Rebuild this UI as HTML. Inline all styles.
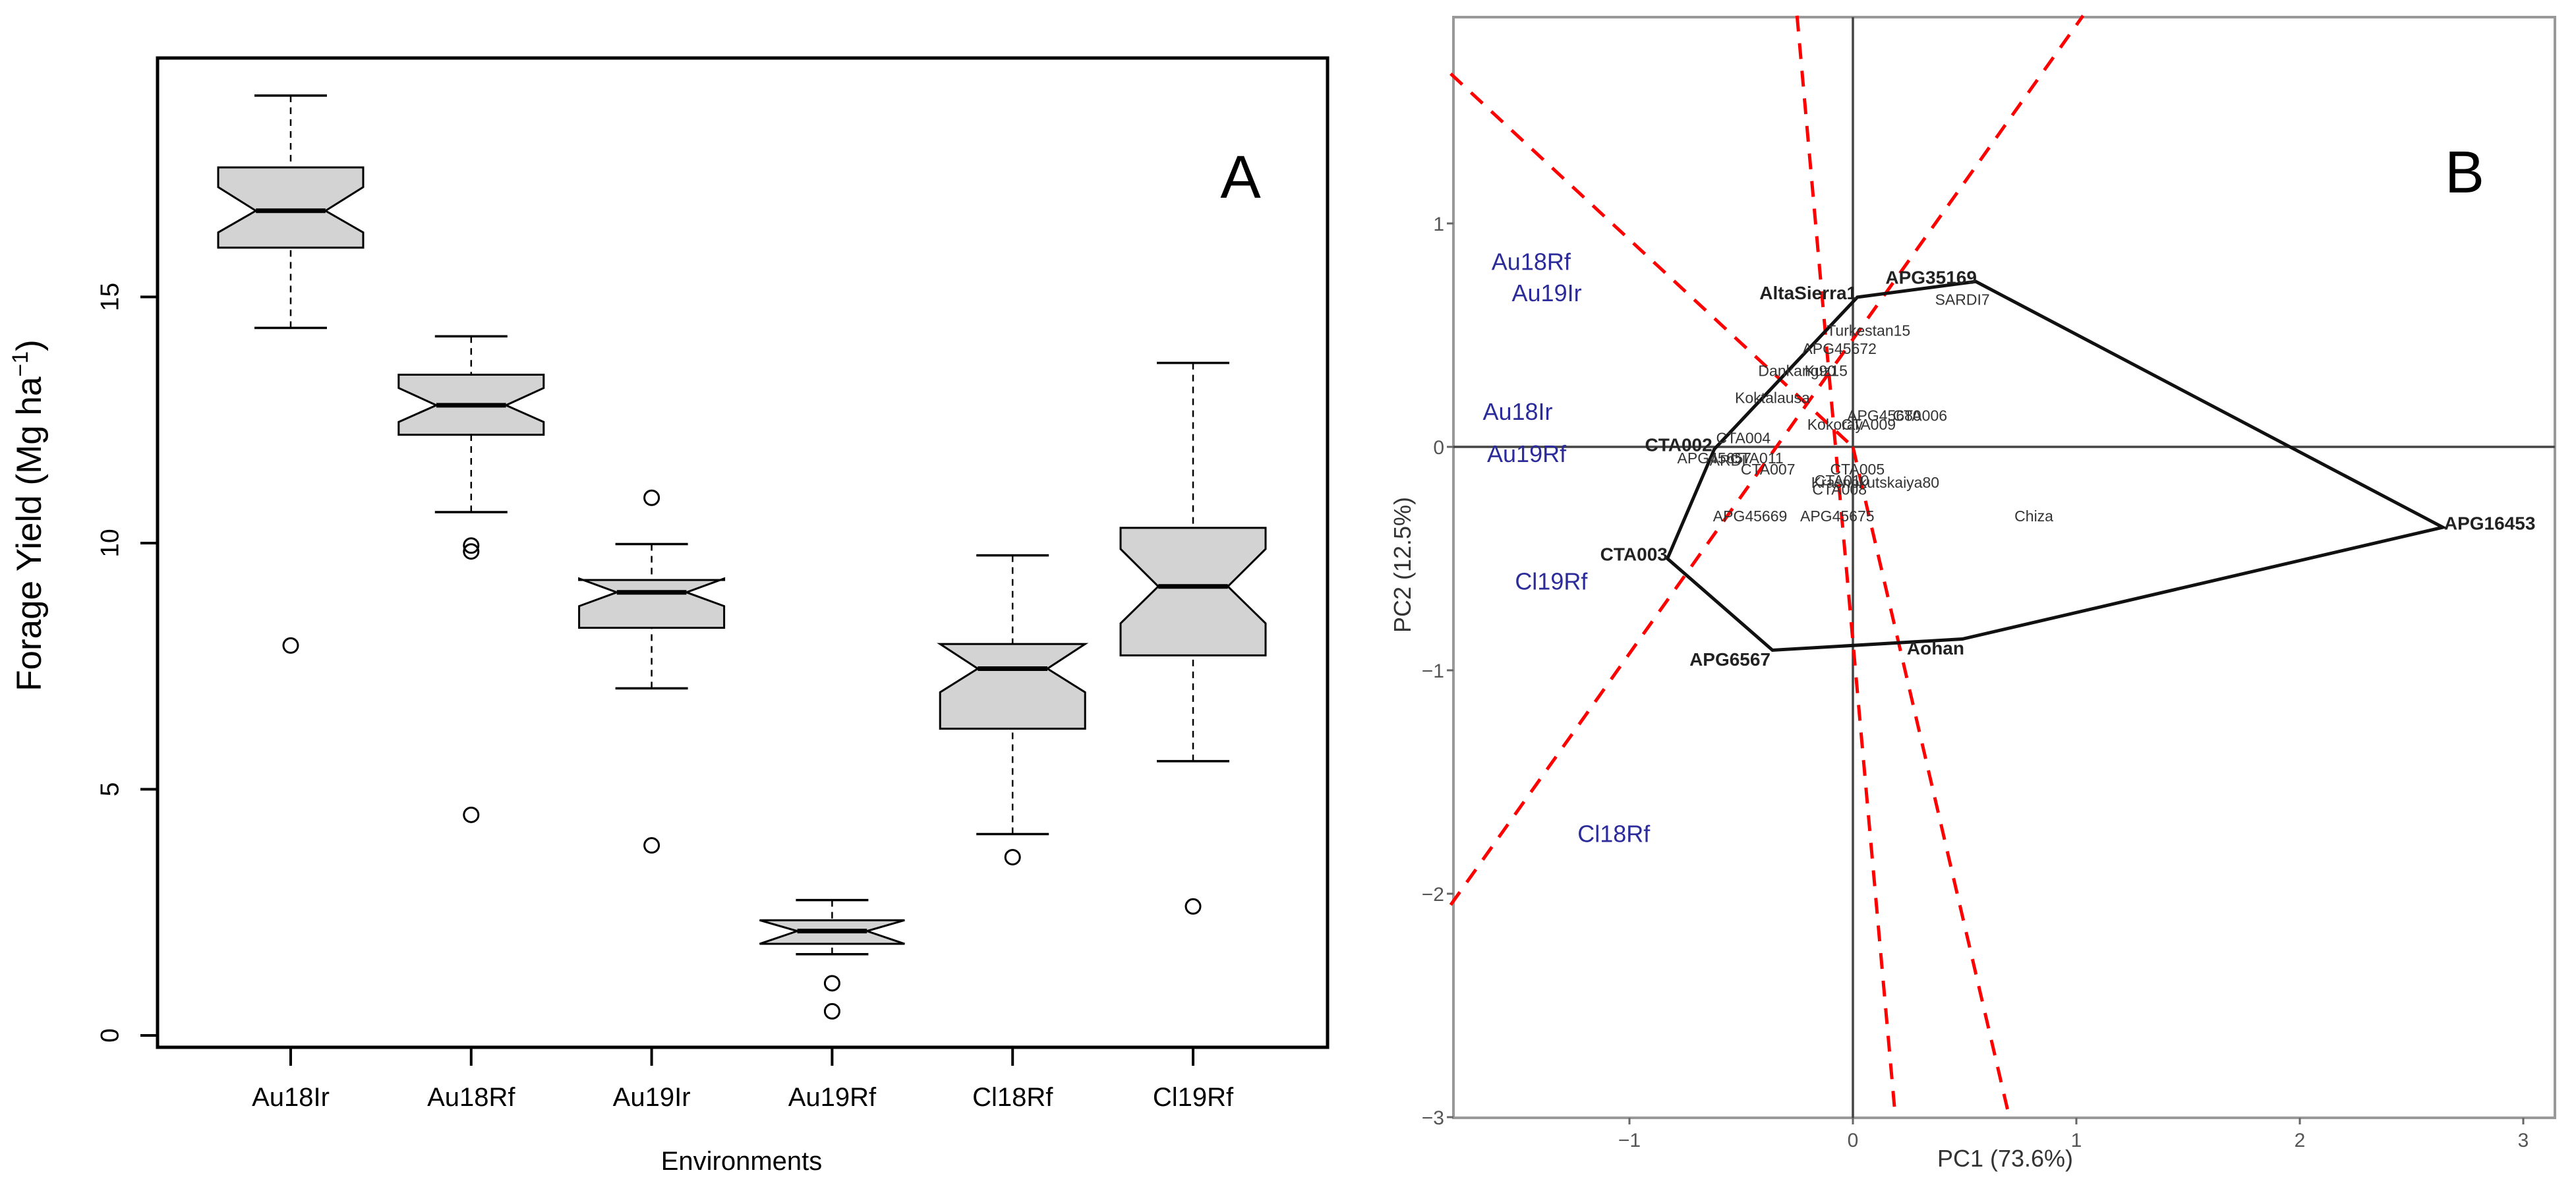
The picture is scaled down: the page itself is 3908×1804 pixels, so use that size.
<!DOCTYPE html>
<html><head><meta charset="utf-8"><style>
html,body{margin:0;padding:0;background:#fff;}
svg{display:block;font-family:"Liberation Sans",Arial,sans-serif;}
</style></head><body>
<svg id="fig" width="3908" height="1804" viewBox="0 0 3908 1804" xmlns="http://www.w3.org/2000/svg">
<g id="panelA"></g>
<g id="panelB"></g>
</svg>
<script>
// ---------- Panel A data ----------
const envNames = ["Au18Ir","Au18Rf","Au19Ir","Au19Rf","Cl18Rf","Cl19Rf"];
const whiskerLow = [14.37,10.63,7.05,1.65,4.09,5.57];
const q1 = [16.0,12.2,8.28,1.86,6.23,7.72];
const median = [16.75,12.8,9.0,2.12,7.45,9.12];
const q3 = [17.63,13.42,9.25,2.34,7.95,10.31];
const whiskerHigh = [19.09,14.2,9.98,2.75,9.75,13.66];
const notchLow = [16.31,12.46,8.72,1.86,6.97,8.37];
const notchHigh = [17.23,13.15,9.28,2.34,7.95,9.88];
const outlierEnv = [0,1,1,1,2,2,3,3,4,5];
const outlierVal = [7.92,9.95,9.83,4.48,10.92,3.86,1.06,0.49,3.62,2.62];
const yTicksA = [0,5,10,15];

// ---------- Panel B data ----------
const hullNames = ["AltaSierra1","APG35169","APG16453","Aohan","APG6567","CTA003","CTA002"];
const hullX = [0.02,0.55,2.64,0.49,-0.36,-0.83,-0.62];
const hullY = [0.67,0.74,-0.36,-0.86,-0.91,-0.50,-0.01];
const hullLabelX = [-0.20,0.35,2.85,0.37,-0.55,-0.98,-0.78];
const hullLabelY = [0.69,0.76,-0.34,-0.90,-0.95,-0.48,0.01];
const envLabels = ["Au18Rf","Au19Ir","Au18Ir","Au19Rf","Cl19Rf","Cl18Rf"];
const envX = [-1.44,-1.37,-1.50,-1.46,-1.35,-1.07];
const envY = [0.83,0.69,0.16,-0.03,-0.60,-1.73];
const genoNames = ["Turkestan15","APG45672","Dankang90","Kuz15","Koktalausa","APG45680","CTA006","Kokoray","CTA009","CTA004","APG45657","CTA011","ARDI","CTA007","CTA005","CTA010","Krasnokutskaiya80","CTA008","APG45669","APG45675","Chiza","SARDI7"];
const genoX = [0.07,-0.06,-0.25,-0.12,-0.36,0.14,0.30,-0.08,0.07,-0.49,-0.62,-0.43,-0.56,-0.38,0.02,-0.05,0.10,-0.06,-0.46,-0.07,0.81,0.49];
const genoY = [0.52,0.44,0.34,0.34,0.22,0.14,0.14,0.10,0.10,0.04,-0.05,-0.05,-0.06,-0.10,-0.10,-0.15,-0.16,-0.19,-0.31,-0.31,-0.31,0.66];
const rayX1 = [-1.80,-1.80,-0.25,0.0];
const rayY1 = [1.67,-2.05,1.93,0.0];
const rayX2 = [0.0,1.03,0.19,0.70];
const rayY2 = [0.0,1.93,-3.0,-3.0];
const xTicksB = [-1,0,1,2,3];
const yTicksB = [-3,-2,-1,0,1];

const NS="http://www.w3.org/2000/svg";
function mk(parent,tag,attrs,text){const e=document.createElementNS(NS,tag);for(const k in attrs)e.setAttribute(k,attrs[k]);if(text!==undefined)e.textContent=text;parent.appendChild(e);return e;}

// ---------- Panel A ----------
const A=document.getElementById('panelA');
const aL=239,aR=2014,aT=88,aB=1589;
const yA=v=>1571-74.7*v;
const xA=i=>441+273.8*i;
const hw=110;
let e;
e=mk(A,'rect',{x:aL,y:aT,width:aR-aL,height:aB-aT,fill:'none',stroke:'#000','stroke-width':5});


yTicksA.forEach(t=>{
  const y=yA(t);
  e=mk(A,'line',{x1:213,x2:aL,y1:y,y2:y,stroke:'#000','stroke-width':4});
  
  
  e=mk(A,'text',{x:167,y:y,'font-size':39,'text-anchor':'middle','dominant-baseline':'central',transform:`rotate(-90 167 ${y})`},String(t));
  
  
});
e=mk(A,'text',{x:62,y:782,'font-size':53,'text-anchor':'middle',transform:'rotate(-90 62 782)'});


e.innerHTML='Forage Yield (Mg ha<tspan dy="-20" font-size="34">−1</tspan><tspan dy="20">)</tspan>';
e=mk(A,'text',{x:1125,y:1775,'font-size':40,'text-anchor':'middle'},'Environments');


e=mk(A,'text',{x:1882,y:300,'font-size':92,'text-anchor':'middle'},'A');


envNames.forEach((n,i)=>{
  const cx=xA(i);
  e=mk(A,'line',{x1:cx,x2:cx,y1:aB,y2:1617,stroke:'#000','stroke-width':4});
  
  
  e=mk(A,'text',{x:cx,y:1678,'font-size':40,'text-anchor':'middle'},n);
  
  
  // whiskers
  e=mk(A,'line',{x1:cx,x2:cx,y1:yA(whiskerHigh[i]),y2:yA(notchHigh[i]>q3[i]?notchHigh[i]:q3[i]),stroke:'#000','stroke-width':2.5,'stroke-dasharray':'10 8'});
  
  
  e=mk(A,'line',{x1:cx,x2:cx,y1:yA(whiskerLow[i]),y2:yA(q1[i]),stroke:'#000','stroke-width':2.5,'stroke-dasharray':'10 8'});
  
  
  e=mk(A,'line',{x1:cx-55,x2:cx+55,y1:yA(whiskerHigh[i]),y2:yA(whiskerHigh[i]),stroke:'#000','stroke-width':3.5});
  
  
  e=mk(A,'line',{x1:cx-55,x2:cx+55,y1:yA(whiskerLow[i]),y2:yA(whiskerLow[i]),stroke:'#000','stroke-width':3.5});
  
  
  // notched box
  const ni=hw*0.48;
  const yq1=yA(q1[i]),yq3=yA(q3[i]),ym=yA(median[i]),ynl=yA(notchLow[i]),ynh=yA(notchHigh[i]);
  const pts=[[cx-hw,yq1],[cx-hw,ynl],[cx-ni,ym],[cx-hw,ynh],[cx-hw,yq3],[cx+hw,yq3],[cx+hw,ynh],[cx+ni,ym],[cx+hw,ynl],[cx+hw,yq1]];
  e=mk(A,'polygon',{points:pts.map(p=>p.join(',')).join(' '),fill:'#d3d3d3',stroke:'#000','stroke-width':3});
  
  
  e=mk(A,'line',{x1:cx-ni,x2:cx+ni,y1:ym,y2:ym,stroke:'#000','stroke-width':7});
  
  
});
outlierVal.forEach((v,k)=>{
  e=mk(A,'circle',{cx:xA(outlierEnv[k]),cy:yA(v),r:11,fill:'none',stroke:'#000','stroke-width':3});
  
  
});

// ---------- Panel B ----------
const B=document.getElementById('panelB');
const bL=2205,bR=3876,bT=26,bBot=1696;
const xB=v=>2811+339*v;
const yB=v=>678-339*v;
e=mk(B,'rect',{x:bL,y:bT,width:bR-bL,height:bBot-bT,fill:'none',stroke:'#999','stroke-width':4});


e=mk(B,'line',{x1:xB(0),x2:xB(0),y1:bT,y2:bBot,stroke:'#444','stroke-width':3.5});


e=mk(B,'line',{x1:bL,x2:bR,y1:yB(0),y2:yB(0),stroke:'#444','stroke-width':3.5});


xTicksB.forEach(t=>{
  const x=xB(t);
  e=mk(B,'line',{x1:x,x2:x,y1:bBot,y2:bBot+10,stroke:'#666','stroke-width':3});
  
  
  e=mk(B,'text',{x:x,y:bBot+44,'font-size':30,fill:'#555','text-anchor':'middle'},t<0?'−'+(-t):String(t));
  
  
});
yTicksB.forEach(t=>{
  const y=yB(t);
  e=mk(B,'line',{x1:bL-10,x2:bL,y1:y,y2:y,stroke:'#666','stroke-width':3});
  
  
  e=mk(B,'text',{x:bL-14,y:y+11,'font-size':30,fill:'#555','text-anchor':'end'},t<0?'−'+(-t):String(t));
  
  
});
e=mk(B,'text',{x:3042,y:1770,'font-size':36,fill:'#333','text-anchor':'middle'},'PC1 (73.6%)');


e=mk(B,'text',{x:2140,y:857,'font-size':36,fill:'#333','text-anchor':'middle',transform:'rotate(-90 2140 857)'},'PC2 (12.5%)');


e=mk(B,'text',{x:3739,y:292,'font-size':90,'text-anchor':'middle'},'B');


rayX1.forEach((x1,k)=>{
  e=mk(B,'line',{x1:xB(x1),y1:yB(rayY1[k]),x2:xB(rayX2[k]),y2:yB(rayY2[k]),stroke:'#f00','stroke-width':5,'stroke-dasharray':'24 18'});
  
  
});
e=mk(B,'polygon',{points:hullX.map((x,k)=>xB(x)+','+yB(hullY[k])).join(' '),fill:'none',stroke:'#111','stroke-width':5});


genoNames.forEach((n,k)=>{
  e=mk(B,'text',{x:xB(genoX[k]),y:yB(genoY[k])+8,'font-size':23,fill:'#333','text-anchor':'middle'},n);
  
  
});
hullNames.forEach((n,k)=>{
  e=mk(B,'text',{x:xB(hullLabelX[k]),y:yB(hullLabelY[k])+10,'font-size':28,'font-weight':'bold',fill:'#222','text-anchor':'middle'},n);
  
  
});
envLabels.forEach((n,k)=>{
  e=mk(B,'text',{x:xB(envX[k]),y:yB(envY[k])+13,'font-size':36,fill:'#2b2b9a','text-anchor':'middle'},n);
  
  
});
</script>
</body></html>
